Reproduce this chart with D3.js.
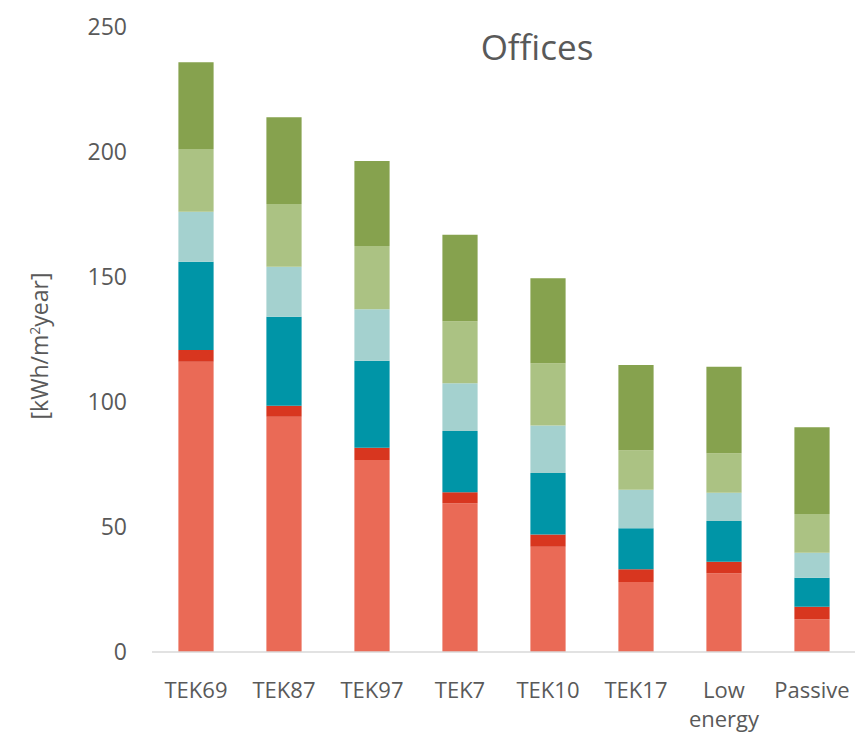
<!DOCTYPE html>
<meta charset="utf-8">
<html>
<script src="https://d3js.org/d3.v7.min.js"></script>
<style>
  body { margin: 0; background: #fff; }
  text { font-family: "Open Sans", sans-serif; fill: #595959; }
</style>
<div id="chart"></div>
<script>

// categories (x axis)
var categories = ["TEK69", "TEK87", "TEK97", "TEK7", "TEK10", "TEK17", "Low energy", "Passive"];

// stacked series, bottom to top
var spaceHeating   = [116.1, 94.1, 76.8, 59.5, 42.1, 28.0, 31.5, 13.1];
var ventHeating    = [  4.7,  4.4,  4.9,  4.4,  4.9,  5.1,  4.6,  5.0];
var hotWater       = [ 35.3, 35.6, 34.8, 24.5, 24.6, 16.4, 16.3, 11.6];
var fansPumps      = [ 20.0, 20.0, 20.6, 19.1, 19.0, 15.4, 11.3, 10.0];
var lighting       = [ 25.1, 25.1, 25.3, 24.8, 24.9, 15.8, 15.8, 15.5];
var equipment      = [ 34.7, 34.7, 34.0, 34.6, 34.0, 34.1, 34.6, 34.7];

var seriesNames = ["Space heating", "Ventilation heating", "Hot water", "Fans and pumps", "Lighting", "Equipment"];
var seriesValues = [spaceHeating, ventHeating, hotWater, fansPumps, lighting, equipment];
var seriesColors = ["#EA6A56", "#D8361F", "#0095A7", "#A4D1CF", "#ABC283", "#86A24E"];

var yTicks = [0, 50, 100, 150, 200, 250];

var width = 855, height = 734;

var svg = d3.select("#chart")
  .append("svg")
    .attr("width", width)
    .attr("height", height);

// build rows for d3.stack
var rows = categories.map(function(c, i) {
  var r = { cat: c };
  seriesNames.forEach(function(s, j) { r[s] = seriesValues[j][i]; });
  return r;
});

var stacked = d3.stack().keys(seriesNames)(rows);

var x = d3.scaleBand()
  .domain(categories)
  .range([152, 856])
  .paddingInner(0.6)
  .paddingOuter(0.3);

var y = d3.scaleLinear()
  .domain([0, 250])
  .range([652, 27]);

var color = d3.scaleOrdinal()
  .domain(seriesNames)
  .range(seriesColors);

// bars
svg.append("g")
  .selectAll("g")
  .data(stacked)
  .enter().append("g")
    .attr("fill", function(d) { return color(d.key); })
  .selectAll("rect")
  .data(function(d) { return d; })
  .enter().append("rect")
    .attr("x", function(d) { return x(d.data.cat); })
    .attr("y", function(d) { return y(d[1]); })
    .attr("height", function(d) { return y(d[0]) - y(d[1]); })
    .attr("width", x.bandwidth());

// baseline
svg.append("line")
  .attr("x1", 152).attr("x2", 855)
  .attr("y1", y(0)).attr("y2", y(0))
  .attr("stroke", "#D9D9D9")
  .attr("stroke-width", 1.5);

// y axis labels
var yAxis = svg.append("g")
  .attr("transform", "translate(152,0)")
  .call(d3.axisLeft(y).tickValues(yTicks).tickSize(0).tickPadding(25));
yAxis.select(".domain").remove();
yAxis.selectAll("text")
  .style("font-family", "'Open Sans', sans-serif")
  .style("font-size", "23px")
  .attr("fill", "#595959");

// x axis labels (Low energy wraps)
var xLabels = svg.append("g")
  .selectAll("text")
  .data(categories)
  .enter().append("text")
    .attr("text-anchor", "middle")
    .attr("x", function(d) { return x(d) + x.bandwidth() / 2; })
    .attr("y", 698)
    .style("font-size", "22px");

xLabels.each(function(d) {
  var words = d.split(" ");
  var t = d3.select(this);
  words.forEach(function(w, i) {
    t.append("tspan")
      .attr("x", x(d) + x.bandwidth() / 2)
      .attr("dy", i == 0 ? 0 : 29)
      .text(w);
  });
});

// y axis title
svg.append("text")
  .attr("transform", "translate(48,346) rotate(-90)")
  .attr("text-anchor", "middle")
  .style("font-size", "23px")
  .html("[kWh/m<tspan dy='-8' font-size='14px'>2</tspan><tspan dy='8'>year]</tspan>");

// title
svg.append("text")
  .attr("x", 537)
  .attr("y", 60)
  .attr("text-anchor", "middle")
  .style("font-size", "35px")
  .text("Offices");

</script>
</html>
